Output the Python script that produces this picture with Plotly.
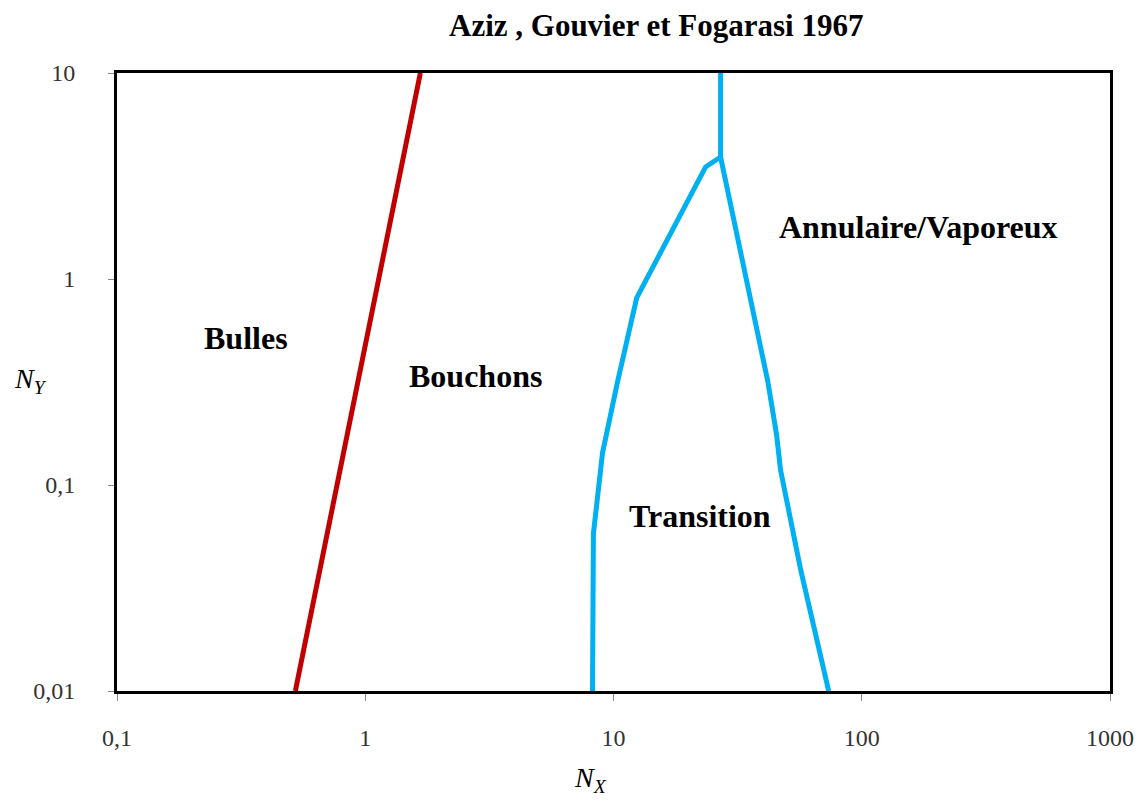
import numpy as np
import plotly.graph_objects as go

# Regime boundaries (Aziz, Gouvier & Fogarasi 1967)
bubble_slug_x = [0.523, 1.667]
bubble_slug_y = [0.01, 10]

slug_trans_x = [8.23, 8.3, 9.03, 10.4, 12.4, 15.5, 23.5, 27.0, 27.0]
slug_trans_y = [0.01, 0.058, 0.143, 0.32, 0.81, 1.34, 3.5, 3.91, 10]

trans_annular_x = [27.0, 30.5, 41.8, 45.4, 47.1, 56.8, 73.6]
trans_annular_y = [3.91, 1.93, 0.32, 0.175, 0.118, 0.0386, 0.01]

x_tickvals = [0.1, 1, 10, 100, 1000]
x_ticktext = ["0,1", "1", "10", "100", "1000"]
y_tickvals = [0.01, 0.1, 1, 10]
y_ticktext = ["0,01", "0,1", "1", "10"]

region_labels = ["Bulles", "Bouchons", "Transition", "Annulaire/Vaporeux"]
region_x = [0.331, 2.78, 22.4, 169.8]
region_y = [0.517, 0.338, 0.0708, 1.79]

serif = "Liberation Serif, Times New Roman, serif"

fig = go.Figure()
fig.add_trace(go.Scatter(x=bubble_slug_x, y=bubble_slug_y, mode="lines",
                         line=dict(color="#C00000", width=5), showlegend=False))
fig.add_trace(go.Scatter(x=slug_trans_x, y=slug_trans_y, mode="lines",
                         line=dict(color="#00B0F0", width=5), showlegend=False))
fig.add_trace(go.Scatter(x=trans_annular_x, y=trans_annular_y, mode="lines",
                         line=dict(color="#00B0F0", width=5), showlegend=False))

for t, xv, yv in zip(region_labels, region_x, region_y):
    fig.add_annotation(x=np.log10(xv), y=np.log10(yv), text="<b>" + t + "</b>",
                       showarrow=False, xanchor="center", yanchor="middle",
                       font=dict(family=serif, size=32, color="black"))

fig.add_annotation(xref="paper", yref="paper", x=0.543, y=1.0, yshift=48,
                   xanchor="center", yanchor="middle",
                   text="<b>Aziz , Gouvier et Fogarasi 1967</b>", showarrow=False,
                   font=dict(family=serif, size=31, color="black"))
fig.add_annotation(xref="paper", yref="paper", x=-0.0876, y=0.503,
                   xanchor="center", yanchor="middle",
                   text="<i>N<sub>Y</sub></i>", showarrow=False,
                   font=dict(family=serif, size=28, color="black"))
fig.add_annotation(xref="paper", yref="paper", x=0.477, y=0, yshift=-88,
                   xanchor="center", yanchor="middle",
                   text="<i>N<sub>X</sub></i>", showarrow=False,
                   font=dict(family=serif, size=28, color="black"))

fig.update_layout(
    width=1126, height=793,
    margin=dict(l=109, r=24, t=65, b=110),
    paper_bgcolor="white", plot_bgcolor="white",
    xaxis=dict(type="log", range=[-1, 3], tickvals=x_tickvals, ticktext=x_ticktext,
               automargin=False,
               showgrid=False, zeroline=False, showline=True, linecolor="black",
               linewidth=3, mirror=True, ticks="outside", ticklen=7, tickcolor="#888888",
               tickfont=dict(family=serif, size=24, color="#333333"),
               ticklabelstandoff=16),
    yaxis=dict(type="log", range=[-2, 1], tickvals=y_tickvals, ticktext=y_ticktext,
               automargin=False,
               showgrid=False, zeroline=False, showline=True, linecolor="black",
               linewidth=3, mirror=True, ticks="outside", ticklen=6, tickcolor="#888888",
               tickfont=dict(family=serif, size=24, color="#333333"),
               ticklabelstandoff=28),
)

fig.write_html("out.html")
